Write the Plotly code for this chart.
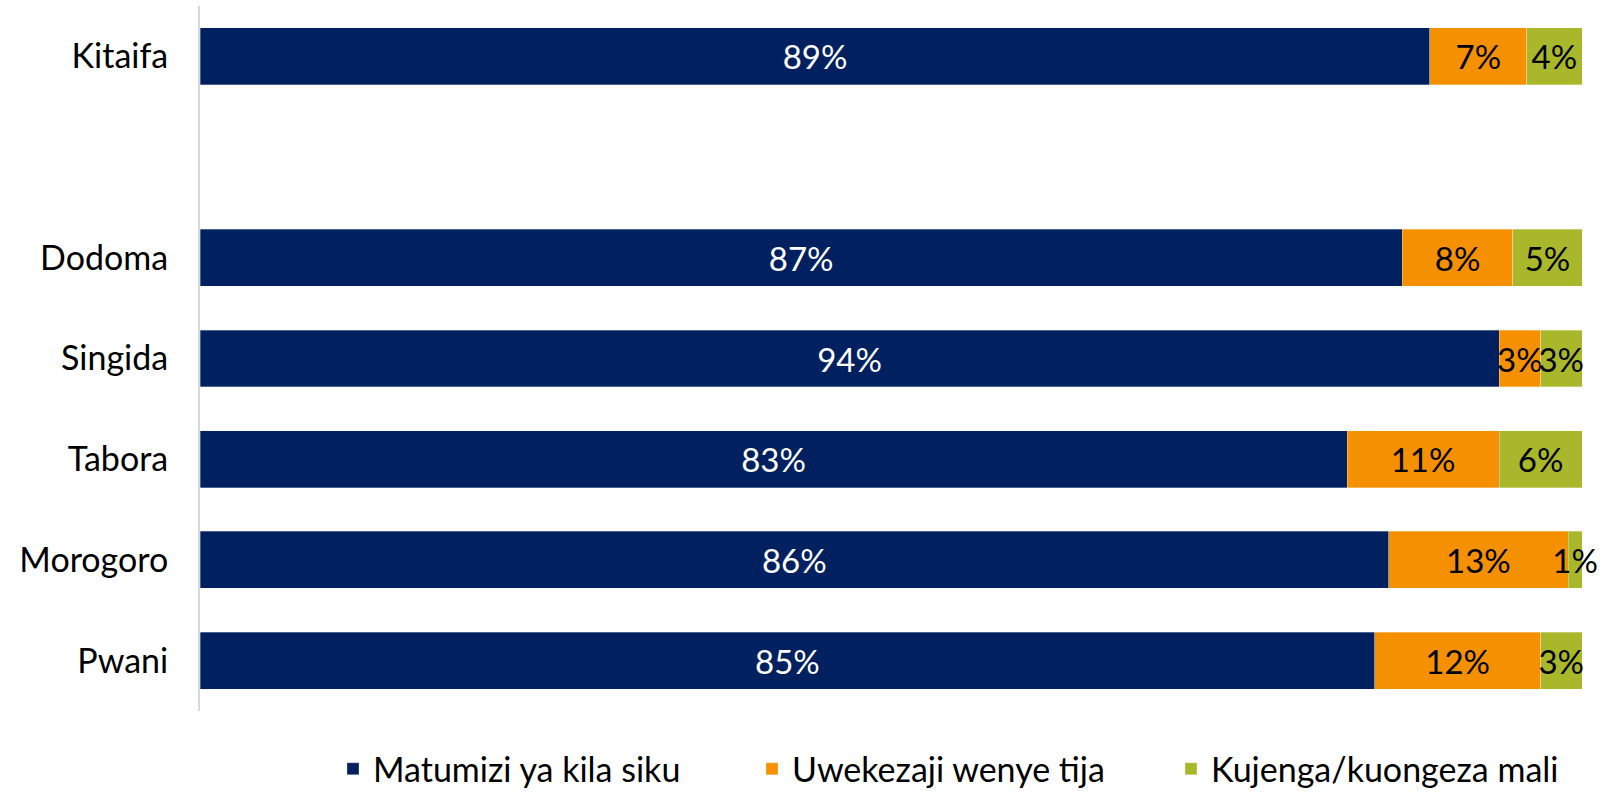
import plotly.graph_objects as go

categories = ["Kitaifa", " ", "Dodoma", "Singida", "Tabora", "Morogoro", "Pwani"]
matumizi = [89, None, 87, 94, 83, 86, 85]
uwekezaji = [7, None, 8, 3, 11, 13, 12]
kujenga = [4, None, 5, 3, 6, 1, 3]

series = [
    ("Matumizi ya kila siku", matumizi, "#002060", "white"),
    ("Uwekezaji wenye tija", uwekezaji, "#F59100", "black"),
    ("Kujenga/kuongeza mali", kujenga, "#A9B82B", "black"),
]

FONT = "Lato"
FS = 34
FS_BAR = 33

fig = go.Figure()
for name, vals, color, tcolor in series:
    fig.add_trace(go.Bar(
        name=name,
        y=categories,
        x=vals,
        orientation="h",
        marker=dict(color=color, line=dict(color="rgba(255,255,255,0.6)", width=0.5)),
        text=[f"{v}%" if v is not None else "" for v in vals],
        textposition="inside",
        insidetextanchor="middle",
        textangle=0,
        constraintext="none",
        cliponaxis=False,
        textfont=dict(color=tcolor, size=FS_BAR, family=FONT),
    ))

fig.update_layout(
    barmode="stack",
    bargap=0.435,
    width=1604,
    height=793,
    margin=dict(l=200, r=22, t=6, b=82),
    plot_bgcolor="white",
    paper_bgcolor="white",
    font=dict(family=FONT, size=FS, color="black"),
    showlegend=True,
    legend=dict(
        orientation="h",
        xref="container",
        yref="container",
        x=0.2076,
        xanchor="left",
        y=0.030,
        yanchor="middle",
        font=dict(size=FS, family=FONT),
        entrywidth=374,
        entrywidthmode="pixels",
        traceorder="normal",
    ),
)
fig.update_xaxes(range=[0, 100], showticklabels=False, showgrid=False, zeroline=False, showline=False)
fig.update_yaxes(
    categoryorder="array",
    categoryarray=categories,
    autorange="reversed",
    showgrid=False,
    zeroline=False,
    showline=True,
    linecolor="#D9D9D9",
    linewidth=2,
    ticks="",
    ticklabelstandoff=23,
    tickfont=dict(size=FS, family=FONT, color="black"),
)

fig.write_html("out.html", config={"displayModeBar": False},
               post_script="document.body.style.margin='0';")
